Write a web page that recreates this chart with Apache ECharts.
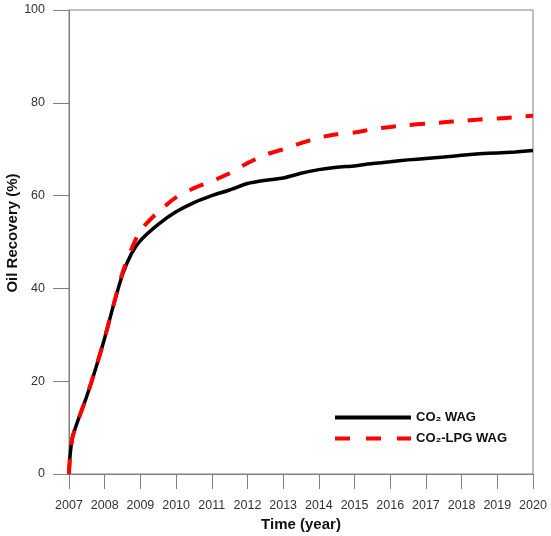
<!DOCTYPE html>
<html>
<head>
<meta charset="utf-8">
<script src="https://cdn.jsdelivr.net/npm/echarts@6/dist/echarts.min.js"></script>
<style>html,body{margin:0;padding:0;background:#fff}#c{width:551px;height:536px}</style>
</head>
<body>
<div id="c"></div>
<script>
var years = [2007.0, 2007.03, 2007.1, 2007.25, 2007.5, 2007.75, 2008.0, 2008.25, 2008.5, 2008.75, 2009.0, 2009.5, 2010.0, 2010.5, 2011.0, 2011.5, 2012.0, 2012.5, 2013.0, 2013.5, 2014.0, 2014.5, 2015.0, 2015.5, 2016.0, 2016.5, 2017.0, 2017.5, 2018.0, 2018.5, 2019.0, 2019.5, 2020.0];
var co2Wag = [0, 4, 8, 11.5, 16.8, 22.8, 29.3, 36.5, 43, 47.5, 50.3, 53.8, 56.5, 58.5, 60.0, 61.2, 62.6, 63.3, 63.8, 64.8, 65.6, 66.1, 66.4, 66.9, 67.3, 67.7, 68.0, 68.3, 68.7, 69.0, 69.2, 69.4, 69.7];
var co2LpgWag = [0, 4, 8, 11.5, 16.8, 22.8, 29.3, 36.5, 43.4, 48.5, 52.5, 56.5, 59.6, 61.6, 63.1, 64.8, 67, 68.8, 70, 71.3, 72.5, 73.2, 73.6, 74.3, 74.8, 75.2, 75.5, 75.8, 76.1, 76.4, 76.6, 76.9, 77.2];
var seriesNames = ['CO\u2082 WAG', 'CO\u2082-LPG WAG'];
var xTicks = {min: 2007, max: 2020, step: 1};
var yTicks = {min: 0, max: 100, step: 20};
var xTitle = 'Time (year)';
var yTitle = 'Oil Recovery (%)';

function pairs(xs, ys) { return xs.map(function (x, i) { return [x, ys[i]]; }); }

var chart = echarts.init(document.getElementById('c'), null, {renderer: 'canvas'});
var axisColor = '#808080';
chart.setOption({
  animation: false,
  backgroundColor: '#fff',
  textStyle: {fontFamily: 'Liberation Sans, Arial, sans-serif'},
  grid: {left: 69, right: 18, top: 10, bottom: 62, containLabel: false, outerBoundsMode: 'none',
         show: true, borderColor: axisColor, borderWidth: 1},
  graphic: [{
    type: 'text', x: 13, y: 233, rotation: Math.PI / 2,
    style: {text: yTitle, align: 'center', verticalAlign: 'middle', fill: '#111',
            font: 'bold 15px "Liberation Sans", Arial, sans-serif'}
  }],
  legend: {
    orient: 'vertical', left: 333, top: 411, padding: 0, itemWidth: 76, itemHeight: 14, itemGap: 8,
    itemStyle: {opacity: 0},
    lineStyle: {width: 4},
    textStyle: {fontWeight: 'bold', fontSize: 13, color: '#111', fontFamily: 'Liberation Sans, Arial, sans-serif'},
    data: [
      {name: seriesNames[0]},
      {name: seriesNames[1], lineStyle: {width: 4, type: [15, 16], color: '#ff0000'}}
    ]
  },
  xAxis: {
    type: 'value', min: xTicks.min, max: xTicks.max, interval: xTicks.step,
    name: xTitle, nameLocation: 'middle', nameGap: 42,
    nameTextStyle: {fontWeight: 'bold', fontSize: 15, color: '#111'},
    axisLine: {lineStyle: {color: axisColor}},
    axisTick: {length: 15, lineStyle: {color: axisColor}},
    axisLabel: {margin: 25, fontSize: 12.5, color: '#333', formatter: function (v) { return String(v); }},
    splitLine: {show: false}
  },
  yAxis: {
    type: 'value', min: yTicks.min, max: yTicks.max, interval: yTicks.step,
    axisLine: {show: true, lineStyle: {color: axisColor}},
    axisTick: {show: true, length: 16, lineStyle: {color: axisColor}},
    axisLabel: {margin: 24, fontSize: 12.5, color: '#333'},
    splitLine: {show: false}
  },
  series: [
    {name: seriesNames[0], type: 'line', data: pairs(years, co2Wag), symbol: 'none', smooth: 0.2,
     lineStyle: {color: '#000', width: 3.5}, itemStyle: {color: '#000'}, z: 2},
    {name: seriesNames[1], type: 'line', data: pairs(years, co2LpgWag), symbol: 'none', smooth: 0.2,
     lineStyle: {color: '#ff0000', width: 4, type: [15, 14]}, itemStyle: {color: '#ff0000'}, z: 3}
  ]
});
</script>
</body>
</html>
